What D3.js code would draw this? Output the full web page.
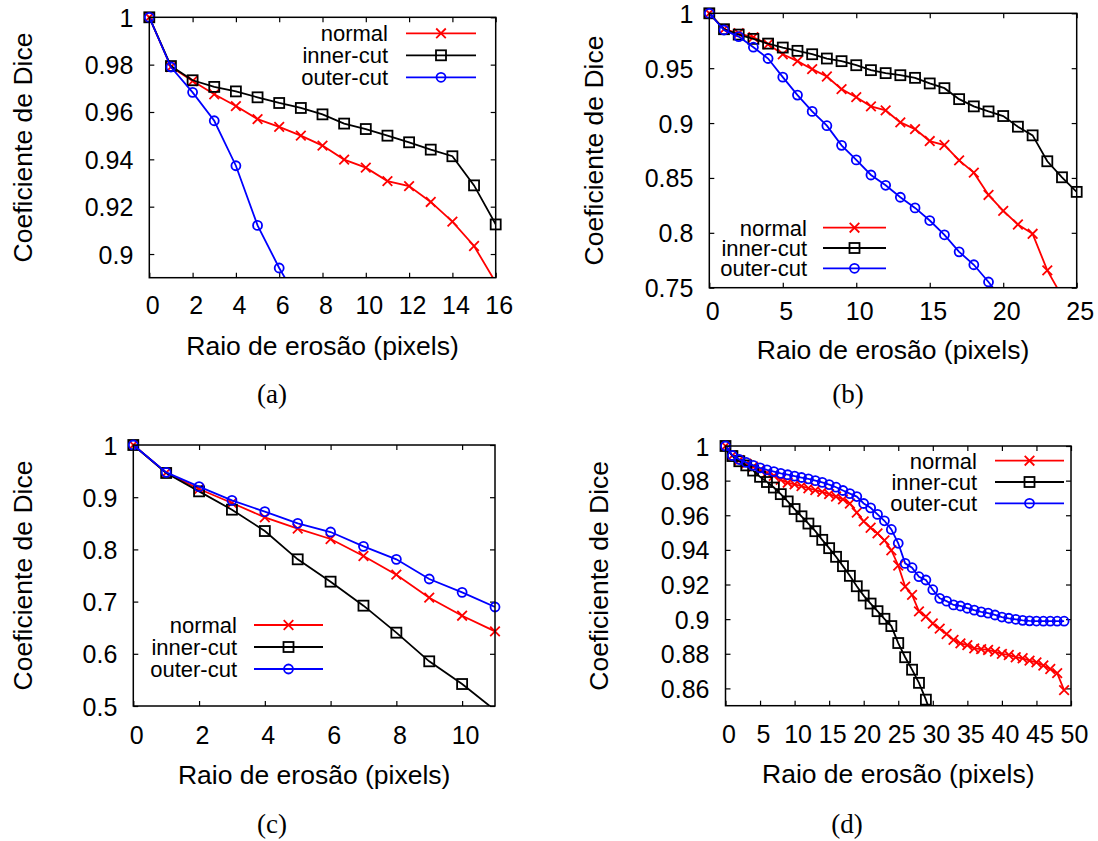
<!DOCTYPE html>
<html><head><meta charset="utf-8">
<script src="https://cdn.jsdelivr.net/npm/d3@7"></script>
<style>body{margin:0;background:#fff} svg{display:block}</style>
</head><body>
<svg id="chart" width="1098" height="841"></svg>
<script>
// ---------- data ----------
const seriesNames = ["normal", "inner-cut", "outer-cut"];
const seriesColors = ["#ff0000", "#000000", "#0000ff"];
const seriesMarkers = ["cross", "square", "circle"];

const yLabelText = "Coeficiente de Dice";
const xLabelText = "Raio de erosão (pixels)";
const panelLabels = ["(a)", "(b)", "(c)", "(d)"];

// panel (a)
const radiusA = [0,1,2,3,4,5,6,7,8,9,10,11,12,13,14,15,16];
const normalA = [1, 0.979, 0.9731, 0.9675, 0.9625, 0.957, 0.9537, 0.950, 0.9458, 0.9399, 0.9365, 0.9308, 0.9287, 0.922, 0.9137, 0.9034, 0.888];
const innerA  = [1, 0.9794, 0.9734, 0.9706, 0.9687, 0.9662, 0.9638, 0.9617, 0.959, 0.9551, 0.9528, 0.95, 0.9472, 0.9441, 0.9413, 0.929, 0.9125];
const outerA  = [1, 0.979, 0.9683, 0.9563, 0.9373, 0.9121, 0.8941, 0.8785];
const xTicksA = [0,2,4,6,8,10,12,14,16];
const yTicksA = [0.9,0.92,0.94,0.96,0.98,1];

// panel (b)
const radiusB = [0,1,2,3,4,5,6,7,8,9,10,11,12,13,14,15,16,17,18,19,20,21,22,23,24,25];
const normalB = [1, 0.9855, 0.9818, 0.9782, 0.9718, 0.9627, 0.9564, 0.9491, 0.9424, 0.9309, 0.9236, 0.9152, 0.9115, 0.9006, 0.8945, 0.8836, 0.88, 0.866, 0.8548, 0.8345, 0.82, 0.8076, 0.7991, 0.7658, 0.742];
const innerB  = [1, 0.9855, 0.9806, 0.9767, 0.9724, 0.9688, 0.9658, 0.9627, 0.9588, 0.9564, 0.9527, 0.9482, 0.9455, 0.9436, 0.9412, 0.9361, 0.9318, 0.9218, 0.9152, 0.9106, 0.9064, 0.8967, 0.8888, 0.8652, 0.8506, 0.8373];
const outerB  = [1, 0.9848, 0.9788, 0.9691, 0.9588, 0.9418, 0.9255, 0.9106, 0.8976, 0.8797, 0.8664, 0.8527, 0.8433, 0.8324, 0.8227, 0.8112, 0.7982, 0.7827, 0.7709, 0.7552, 0.738];
const xTicksB = [0,5,10,15,20,25];
const yTicksB = [0.75,0.8,0.85,0.9,0.95,1];

// panel (c)
const radiusC = [0,1,2,3,4,5,6,7,8,9,10,11];
const normalC = [1, 0.947, 0.9157, 0.8889, 0.8614, 0.8397, 0.8199, 0.7874, 0.7516, 0.7075, 0.673, 0.643];
const innerC  = [1, 0.9464, 0.9112, 0.8761, 0.8352, 0.781, 0.7382, 0.6922, 0.6405, 0.5856, 0.5421, 0.492];
const outerC  = [1, 0.9476, 0.9202, 0.894, 0.8723, 0.85, 0.8333, 0.8059, 0.781, 0.7433, 0.7178, 0.6897];
const xTicksC = [0,2,4,6,8,10];
const yTicksC = [0.5,0.6,0.7,0.8,0.9,1];

// panel (d)
const radiusD = [0,1,2,3,4,5,6,7,8,9,10,11,12,13,14,15,16,17,18,19,20,21,22,23,24,25,26,27,28,29,30,31,32,33,34,35,36,37,38,39,40,41,42,43,44,45,46,47,48,49];
const normalD = [1, 0.9945, 0.9918, 0.9898, 0.9880, 0.9862, 0.9845, 0.9828, 0.9805, 0.9788, 0.9778, 0.9768, 0.9756, 0.9745, 0.9735, 0.9722, 0.9708, 0.9692, 0.9668, 0.9615, 0.9565, 0.9528, 0.9495, 0.9455, 0.9398, 0.9310, 0.9188, 0.9140, 0.9045, 0.9015, 0.8975, 0.8945, 0.8914, 0.8880, 0.8860, 0.8850, 0.8831, 0.8827, 0.8822, 0.8812, 0.8799, 0.8793, 0.8780, 0.8774, 0.8760, 0.8750, 0.8732, 0.8712, 0.8688, 0.8590];
const innerD  = [1, 0.9942, 0.9912, 0.9888, 0.9858, 0.9822, 0.9792, 0.9760, 0.9722, 0.9680, 0.9636, 0.9594, 0.9552, 0.9508, 0.9458, 0.9410, 0.9360, 0.9306, 0.9250, 0.9190, 0.9136, 0.9090, 0.9046, 0.9002, 0.8960, 0.8862, 0.8780, 0.8708, 0.8632, 0.8535, 0.842];
const outerD  = [1, 0.9945, 0.9922, 0.9905, 0.9888, 0.9874, 0.9862, 0.9852, 0.9842, 0.9834, 0.9826, 0.9818, 0.9810, 0.9800, 0.9790, 0.9777, 0.9762, 0.9743, 0.9725, 0.9708, 0.9668, 0.9643, 0.9605, 0.9568, 0.9518, 0.9438, 0.9322, 0.9297, 0.9245, 0.9226, 0.9170, 0.9120, 0.9104, 0.9082, 0.9076, 0.9063, 0.9052, 0.9042, 0.9035, 0.9024, 0.9012, 0.9005, 0.8999, 0.8993, 0.8990, 0.8989, 0.8988, 0.8988, 0.8988, 0.8988];
const xTicksD = [0,5,10,15,20,25,30,35,40,45,50];
const yTicksD = [0.86,0.88,0.9,0.92,0.94,0.96,0.98,1];

// ---------- layout ----------
const panels = [
  { radius: radiusA, series: [normalA, innerA, outerA], xDomain: [0,16], yDomain: [0.89,1], xTicks: xTicksA, yTicks: yTicksA,
    box: {l:149.3, r:495.7, t:17.3, b:277.7}, xTickDy: 28, xLabelY: 355, yLabelX: 22,
    legend: {textR: 388, x1: 406, x2: 476, y0: 33.3, dy: 22}, label: {x:272, y:394} },
  { radius: radiusB, series: [normalB, innerB, outerB], xDomain: [0,25], yDomain: [0.75,1], xTicks: xTicksB, yTicks: yTicksB,
    box: {l:709.3, r:1076.7, t:13.3, b:287.7}, xTickDy: 24, xLabelY: 359, yLabelX: 593,
    legend: {textR: 807, x1: 823, x2: 886, y0: 227.7, dy: 20.3}, label: {x:848, y:394} },
  { radius: radiusC, series: [normalC, innerC, outerC], xDomain: [0,11], yDomain: [0.5,1], xTicks: xTicksC, yTicks: yTicksC,
    box: {l:133.3, r:495, t:445, b:706}, xTickDy: 29, xLabelY: 784, yLabelX: 22,
    legend: {textR: 237, x1: 254, x2: 323, y0: 625, dy: 22}, label: {x:272, y:824} },
  { radius: radiusD, series: [normalD, innerD, outerD], xDomain: [0,50], yDomain: [0.85,1], xTicks: xTicksD, yTicks: yTicksD,
    box: {l:725.5, r:1071, t:446, b:705.7}, xTickDy: 29, xLabelY: 783, yLabelX: 598,
    legend: {textR: 977, x1: 995, x2: 1064, y0: 460.7, dy: 21.3}, label: {x:847, y:824} }
];

const SANS = "'Liberation Sans', Arial, Helvetica, sans-serif";
const SERIF = "'Liberation Serif', 'DejaVu Serif', serif";
const tickFont = 25, titleFont = 26.5, legendFont = 22;

const svg = d3.select("#chart");
svg.append("rect").attr("width",1098).attr("height",841).attr("fill","#fff");

function drawMarker(g, type, x, y, color) {
  if (type === "cross") {
    const s = 4.8;
    g.append("path").attr("d", `M${x-s},${y-s}L${x+s},${y+s}M${x-s},${y+s}L${x+s},${y-s}`)
      .attr("stroke", color).attr("stroke-width", 1.8).attr("fill","none");
  } else if (type === "square") {
    const s = 5;
    g.append("rect").attr("x", x-s).attr("y", y-s).attr("width", 2*s).attr("height", 2*s)
      .attr("stroke", color).attr("stroke-width", 1.8).attr("fill","none");
  } else {
    g.append("circle").attr("cx", x).attr("cy", y).attr("r", 4.5)
      .attr("stroke", color).attr("stroke-width", 1.8).attr("fill","none");
  }
}

panels.forEach((p, pi) => {
  const {l, r, t, b} = p.box;
  const x = d3.scaleLinear().domain(p.xDomain).range([l, r]);
  const y = d3.scaleLinear().domain(p.yDomain).range([b, t]);
  const g = svg.append("g");

  const clipId = "clip" + pi;
  svg.append("clipPath").attr("id", clipId).append("rect")
    .attr("x", l).attr("y", t).attr("width", r - l).attr("height", b - t);

  // axes tick marks (inward, mirrored)
  const axB = g.append("g").attr("transform", `translate(0,${b})`)
    .call(d3.axisBottom(x).tickValues(p.xTicks).tickSize(-5).tickSizeOuter(0).tickPadding(p.xTickDy - 9));
  const axT = g.append("g").attr("transform", `translate(0,${t})`)
    .call(d3.axisTop(x).tickValues(p.xTicks).tickSize(-5).tickSizeOuter(0).tickFormat(""));
  const axL = g.append("g").attr("transform", `translate(${l},0)`)
    .call(d3.axisLeft(y).tickValues(p.yTicks).tickSize(-5).tickSizeOuter(0).tickPadding(16).tickFormat(d3.format("~g")));
  const axR = g.append("g").attr("transform", `translate(${r},0)`)
    .call(d3.axisRight(y).tickValues(p.yTicks).tickSize(-5).tickSizeOuter(0).tickFormat(""));
  [axB, axT, axL, axR].forEach(a => {
    a.select(".domain").remove();
    a.selectAll("line").attr("stroke", "#000").attr("stroke-width", 1.2);
    a.selectAll("text").attr("font-family", SANS).attr("font-size", tickFont).attr("fill", "#000");
  });
  axB.selectAll("text").attr("dx", 3);
  axL.selectAll("text").attr("dy", "0.36em");

  // lines & markers
  p.series.forEach((vals, si) => {
    const pts = vals.map((v, i) => [p.radius[i], v]);
    g.append("path").attr("clip-path", `url(#${clipId})`)
      .attr("d", d3.line().x(d => x(d[0])).y(d => y(d[1]))(pts))
      .attr("fill", "none").attr("stroke", seriesColors[si]).attr("stroke-width", 1.8);
    const mg = g.append("g");
    pts.forEach(d => {
      if (d[1] >= p.yDomain[0] - 1e-9 && d[1] <= p.yDomain[1] + 1e-9 && d[0] <= p.xDomain[1])
        drawMarker(mg, seriesMarkers[si], x(d[0]), y(d[1]), seriesColors[si]);
    });
  });

  // frame
  g.append("rect").attr("x", l).attr("y", t).attr("width", r - l).attr("height", b - t)
    .attr("fill", "none").attr("stroke", "#000").attr("stroke-width", 1.5);

  // legend
  seriesNames.forEach((name, si) => {
    const ly = p.legend.y0 + si * p.legend.dy;
    g.append("text").attr("x", p.legend.textR).attr("y", ly).attr("dy", "0.36em")
      .attr("text-anchor", "end").attr("font-family", SANS).attr("font-size", legendFont).text(name);
    g.append("line").attr("x1", p.legend.x1).attr("x2", p.legend.x2).attr("y1", ly).attr("y2", ly)
      .attr("stroke", seriesColors[si]).attr("stroke-width", 1.8);
    drawMarker(g, seriesMarkers[si], (p.legend.x1 + p.legend.x2) / 2, ly, seriesColors[si]);
  });

  // titles
  g.append("text").attr("x", (l + r) / 2).attr("y", p.xLabelY).attr("text-anchor", "middle")
    .attr("font-family", SANS).attr("font-size", titleFont).text(xLabelText);
  g.append("text").attr("transform", `translate(${p.yLabelX},${(t + b) / 2}) rotate(-90)`)
    .attr("text-anchor", "middle").attr("dy", "0.36em")
    .attr("font-family", SANS).attr("font-size", titleFont).text(yLabelText);
  g.append("text").attr("x", p.label.x).attr("y", p.label.y).attr("dy", "0.32em").attr("text-anchor", "middle")
    .attr("font-family", SERIF).attr("font-size", 27).text(panelLabels[pi]);
});
</script>
</body></html>
